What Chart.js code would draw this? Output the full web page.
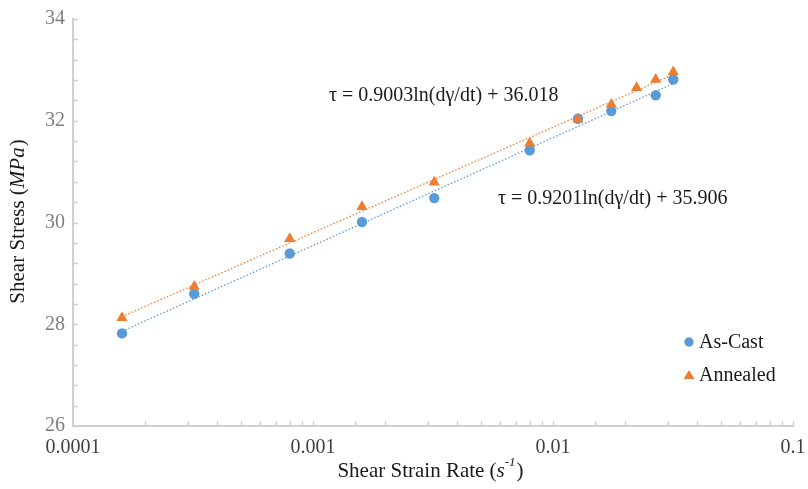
<!DOCTYPE html>
<html>
<head>
<meta charset="utf-8">
<script src="https://cdn.jsdelivr.net/npm/chart.js@4/dist/chart.umd.min.js"></script>
<style>
  html, body { margin: 0; padding: 0; background: #fff; }
  #wrap { width: 808px; height: 489px; position: relative; }
</style>
</head>
<body>
<div id="wrap"><canvas id="stressChart"></canvas></div>
<script>
// strain rates (1/s) and shear stress (MPa)
const castRate = [0.00016, 0.00032, 0.0008, 0.0016, 0.0032, 0.008, 0.0127, 0.0175, 0.0268, 0.0317];
const castStress = [27.82, 28.6, 29.39, 30.01, 30.48, 31.42, 32.04, 32.19, 32.5, 32.81];
const annealRate = [0.00016, 0.00032, 0.0008, 0.0016, 0.0032, 0.008, 0.0127, 0.0175, 0.0223, 0.0268, 0.0317];
const annealStress = [28.13, 28.74, 29.68, 30.31, 30.79, 31.56, 32.03, 32.32, 32.65, 32.81, 32.96];

// trendline end points (log fit shown as straight dotted line)
const trendRate = [0.00016, 0.0317];
const castTrend = [27.86, 32.73];
const annealTrend = [28.15, 32.91];

const seriesNames = ['As-Cast', 'Annealed'];
const equations = ['τ = 0.9003ln(dγ/dt) + 36.018', 'τ = 0.9201ln(dγ/dt) + 35.906'];

const BLUE = '#5b9bd5';
const ORANGE = '#ed7d31';
const SERIF = '"Liberation Serif", "DejaVu Serif", serif';

const pts = (xs, ys) => xs.map((x, i) => ({ x: x, y: ys[i] }));

// inward tick marks, axis titles, equations and legend
const extras = {
    id: 'extras',
    afterDraw(chart) {
        const ctx = chart.ctx;
        const xs = chart.scales.x, ys = chart.scales.y;
        const area = chart.chartArea;
        ctx.save();
        ctx.strokeStyle = '#d0d0d0';
        ctx.lineWidth = 1.5;
        xs.ticks.forEach(t => {
            const px = Math.round(xs.getPixelForValue(t.value)) + 0.5;
            ctx.beginPath();
            ctx.moveTo(px, area.bottom);
            ctx.lineTo(px, area.bottom - 5);
            ctx.stroke();
        });
        ys.ticks.forEach(t => {
            const py = Math.round(ys.getPixelForValue(t.value)) + 0.5;
            ctx.beginPath();
            ctx.moveTo(area.left, py);
            ctx.lineTo(area.left + 5, py);
            ctx.stroke();
        });

        ctx.fillStyle = '#1a1a1a';
        ctx.textBaseline = 'middle';

        // y title
        ctx.save();
        ctx.translate(18, 222);
        ctx.rotate(-Math.PI / 2);
        const p1 = 'Shear Stress (', p2 = 'MPa', p3 = ')';
        ctx.font = '21px ' + SERIF;
        const w1 = ctx.measureText(p1).width, w3 = ctx.measureText(p3).width;
        ctx.font = 'italic 21px ' + SERIF;
        const w2 = ctx.measureText(p2).width;
        let sx = -(w1 + w2 + w3) / 2;
        ctx.textAlign = 'left';
        ctx.font = '21px ' + SERIF;
        ctx.fillText(p1, sx, 0);
        ctx.font = 'italic 21px ' + SERIF;
        ctx.fillText(p2, sx + w1, 0);
        ctx.font = '21px ' + SERIF;
        ctx.fillText(p3, sx + w1 + w2 + 1, 0);
        ctx.restore();

        // x title
        ctx.textAlign = 'left';
        ctx.font = '21px ' + SERIF;
        const a = 'Shear Strain Rate (';
        const wa = ctx.measureText(a).width;
        ctx.font = 'italic 21px ' + SERIF;
        const wb = ctx.measureText('s').width;
        ctx.font = 'italic 13px ' + SERIF;
        const wc = ctx.measureText('-1').width;
        ctx.font = '21px ' + SERIF;
        const wd = ctx.measureText(')').width;
        let tx = 430 - (wa + wb + wc + wd) / 2;
        const ty = 471;
        ctx.fillText(a, tx, ty);
        ctx.font = 'italic 21px ' + SERIF;
        ctx.fillText('s', tx + wa, ty);
        ctx.font = 'italic 13px ' + SERIF;
        ctx.fillText('-1', tx + wa + wb, ty - 8);
        ctx.font = '21px ' + SERIF;
        ctx.fillText(')', tx + wa + wb + wc + 1, ty);

        // trendline equations
        ctx.font = '20px ' + SERIF;
        ctx.fillText(equations[0], 329, 96);
        ctx.fillText(equations[1], 498, 199);

        // legend
        const legendY = [342, 375];
        chart.data.datasets.slice(0, 2).forEach(ds => {
            const ly = legendY[seriesNames.indexOf(ds.label)];
            ctx.fillStyle = ds.backgroundColor;
            ctx.beginPath();
            if (ds.pointStyle === 'triangle') {
                ctx.moveTo(689, ly - 5);
                ctx.lineTo(694.5, ly + 4);
                ctx.lineTo(683.5, ly + 4);
                ctx.closePath();
            } else {
                ctx.arc(689, ly, 4.7, 0, Math.PI * 2);
            }
            ctx.fill();
            ctx.fillStyle = '#1a1a1a';
            ctx.fillText(ds.label, 699, ly + 1);
        });
        ctx.restore();
    }
};

new Chart(document.getElementById('stressChart'), {
    type: 'scatter',
    data: {
        datasets: [
            {
                label: seriesNames[1],
                data: pts(annealRate, annealStress),
                backgroundColor: ORANGE,
                borderColor: ORANGE,
                pointStyle: 'triangle',
                pointRadius: 6.5,
                borderWidth: 0,
                order: 0
            },
            {
                label: seriesNames[0],
                data: pts(castRate, castStress),
                backgroundColor: BLUE,
                borderColor: BLUE,
                pointStyle: 'circle',
                pointRadius: 5.2,
                borderWidth: 0,
                order: 1
            },
            {
                label: 'Annealed trend',
                data: pts(trendRate, annealTrend),
                showLine: true,
                borderColor: ORANGE,
                borderWidth: 1.3,
                borderDash: [1.5, 2],
                pointRadius: 0,
                order: 2
            },
            {
                label: 'As-Cast trend',
                data: pts(trendRate, castTrend),
                showLine: true,
                borderColor: BLUE,
                borderWidth: 1.3,
                borderDash: [1.5, 2],
                pointRadius: 0,
                order: 3
            }
        ]
    },
    options: {
        responsive: true,
        maintainAspectRatio: false,
        animation: false,
        layout: { padding: { left: 0, right: 15, top: 19, bottom: 0 } },
        plugins: {
            legend: { display: false },
            tooltip: { enabled: false }
        },
        scales: {
            x: {
                type: 'logarithmic',
                min: 0.0001,
                max: 0.1,
                afterFit: s => { s.height = 63; s.paddingLeft = 0; s.paddingRight = 0; },
                border: { color: '#d0d0d0', width: 2 },
                grid: { drawOnChartArea: false, drawTicks: false },
                ticks: {
                    padding: 10,
                    autoSkip: false,
                    maxRotation: 0,
                    color: '#404040',
                    font: { family: SERIF, size: 20 },
                    callback: v => {
                        const e = Math.log10(v);
                        if (Math.abs(e - Math.round(e)) > 1e-6) return '';
                        return ['0.0001', '0.001', '0.01', '0.1'][Math.round(e) + 4];
                    }
                }
            },
            y: {
                min: 26,
                max: 34,
                afterFit: s => { s.width = 73; s.paddingTop = 0; s.paddingBottom = 0; },
                border: { color: '#d0d0d0', width: 2 },
                grid: { drawOnChartArea: false, drawTicks: false },
                ticks: {
                    stepSize: 0.4,
                    padding: 8,
                    autoSkip: false,
                    color: '#7f7f7f',
                    font: { family: SERIF, size: 20 },
                    callback: v => {
                        const r = Math.round(v);
                        if (Math.abs(v - r) > 1e-6 || r % 2 !== 0) return '';
                        return String(r);
                    }
                }
            }
        }
    },
    plugins: [extras]
});
</script>
</body>
</html>
